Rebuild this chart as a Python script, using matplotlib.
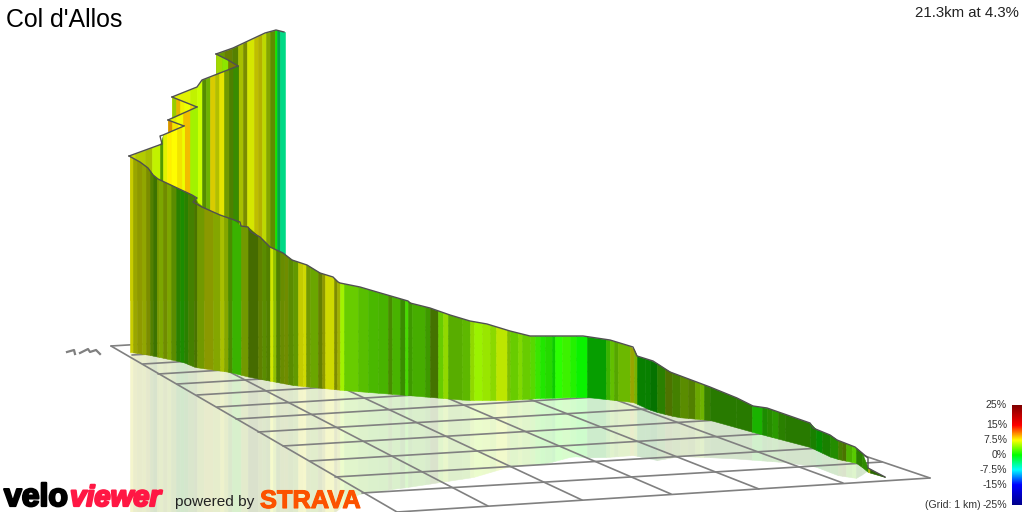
import matplotlib
matplotlib.use('Agg')
import matplotlib.pyplot as plt
import matplotlib.patheffects as pe
from matplotlib.colors import LinearSegmentedColormap
import numpy as np

# Everything in image pixels; grade in percent, shade 0-1.
front_top_x = [129, 140, 148, 153, 158, 175, 192, 197, 193, 202, 220, 240, 241, 248, 251, 260, 270, 283, 292,
               307, 320, 333, 338, 340, 360, 377, 408, 410, 430, 450, 470, 487, 510, 530, 553, 583, 610, 633,
               637, 653, 670, 710, 737, 753, 767, 810, 813, 830, 837, 855, 868, 868, 885]
front_top_y = [156, 162, 168, 175, 179, 187, 195, 198, 202, 207, 215, 222, 226, 227, 232, 237, 247, 253, 260,
               265, 273, 277, 282, 283, 287, 292, 301, 303, 308, 315, 321, 324, 331, 336, 336, 336, 340, 347,
               356, 361, 372, 387, 398, 406, 408, 423, 428, 435, 440, 447, 458, 468, 477]
front_bottom_x = [131, 150, 183, 195, 230, 250, 293, 333, 343, 407, 467, 507, 540, 577, 587, 633, 653, 677,
                  710, 753, 810, 833, 857, 868, 885]
front_bottom_y = [352, 355, 362, 367, 372, 377, 385, 389, 390, 395, 400, 400, 398, 397, 397, 402, 411, 417,
                  420, 432, 447, 458, 463, 472, 477]
shadow_x = [131, 335, 345, 360, 407, 440, 473, 507, 547, 573, 593, 633, 657, 680, 730, 797, 817, 837, 857, 868, 885]
shadow_y = [530, 512, 503, 493, 487, 482, 477, 467, 463, 456, 458, 455, 460, 456, 458, 463, 467, 475, 478, 470, 477]

front_edges = [130, 133, 137, 142, 146, 150, 153, 157, 159, 163, 167, 171, 176, 180, 184, 188, 194, 197, 204, 213,
               220, 224, 228, 232, 241, 248, 258, 262, 266, 270, 273, 276, 280, 284, 288, 293, 298, 303, 306, 310,
               318, 322, 325, 334, 337, 340, 344, 358, 368, 378, 388, 392, 400, 405, 408, 412, 425, 430, 438, 443,
               448, 462, 470, 474, 482, 490, 496, 507, 510, 518, 522, 530, 535, 540, 545, 552, 555, 562, 570, 576,
               587, 606, 610, 614, 618, 630, 634, 637, 645, 650, 657, 665, 672, 680, 688, 695, 700, 704, 710, 736,
               752, 762, 767, 772, 778, 785, 810, 816, 822, 830, 838, 842, 846, 852, 856, 862, 868, 870, 885]
front_grade = [7.4, 7, 7, 6.5, 6.5, 4.8, 4, 6, 5.5, 6, 5.5, 4.8, 2.5, 1.5, 2.5, 4, 4.8, 5.5, 6.8,
               6, 6.5, 6, 4, 2.5, 5.5, 4.8, 5.5, 4.8, 4.8, 6.8, 5.5, 4.8, 5.5, 6, 4.8, 4.8, 7.2, 7.2, 5.5,
               4.8, 6, 7, 7.2, 6.8, 6.8, 5, 3.75, 3.4, 3.1, 3.1, 3.75, 3.1, 3.1, 2.5, 3.1, 3.1, 3.1, 4.4, 3.75,
               5, 3.75, 3.75, 5, 4.75, 5, 4.75, 6.2, 5, 3.75, 4.4, 3.75, 3.1, 1.9, 1, 1.25, 0.5, 1.25, 1.9, 1,
               0.2, 0.3, 2.5, 3.75, 3.75, 4.4, 6.8, 5, 0.5, 0.4, 0.3, 2.5, 5, 4, 4.8, 4.8, 4.8, 4.5, 3.2, 2.5,
               2.5, 1, 1.5, 2, 2, 2.5, 2.5, 1.5, 0.3, 1.5, 1.8, 4, 4.8, 3.2, 3.2, 2.5, 2.5, 7, 3]
front_shade = [.8, .65, .6, .65, .55, .5, .45, .6, .65, .55, .65, .55, .5, .55, .5, .5, .45, .6, .6,
               .65, .75, .65, .55, .7, .6, .42, .5, .55, .5, .9, .75, .5, .55, .55, .55, .6, .8, .85, .6,
               .65, .5, .6, .85, .55, .7, .95, .8, .75, .72, .7, .55, .7, .55, .85, .6, .68, .6, .45, .8,
               .85, .68, .72, .85, .95, .9, .85, .9, .75, .8, .85, .8, .85, .9, .9, .85, .8, 1, .95, .95,
               .95, .62, .7, .75, .65, .72, .65, .7, .5, .5, .45, .5, .45, .5, .55, .5, .65, .7, .5, .48,
               .48, .7, .55, .55, .6, .5, .48, .5, .55, .5, .55, .5, .45, .7, .8, .5, .55, .7, .4]

# rear wall, folded by the switchbacks, from the far side to the near side
rear_x = [[216, 233, 265, 276, 284],
          [216, 228, 238],
          [172, 197, 202, 238],
          [172, 197],
          [168, 197],
          [168, 184],
          [129, 162, 160, 163, 184]]
rear_y = [[54, 48, 33, 30, 32],
          [54, 60, 66],
          [97, 87, 80, 66],
          [97, 107],
          [120, 107],
          [120, 126],
          [156, 144, 136, 135, 126]]
rear_edges = [[216, 224, 232, 238, 243, 247, 254, 258, 262, 266, 270, 275, 277, 280, 285],
              [216, 222, 228, 233, 238],
              [172, 180, 190, 197, 202, 206, 210, 215, 219, 224, 229, 233, 238],
              [172, 176, 180, 184, 190, 193, 197],
              [168, 176, 183, 190, 197],
              [168, 172, 178, 184],
              [130, 135, 145, 152, 160, 163, 167, 171, 177, 182, 184]]
rear_grade = [[5, 6, 5, 6.5, 6.5, 7, 7.5, 7.5, 6.5, 6, 5, 0.5, -3.5, -4.5],
              [5.5, 4.5, 7, 8],
              [7, 7, 6, 6, 4.5, 4.5, 8, 7, 7.5, 5.5, 4.5, 3],
              [5.5, 9, 7.5, 7, 8.5, 4.5],
              [7, 7, 9, 5],
              [10, 8, 7.5],
              [7, 6.5, 6.5, 6, 4, 7, 8, 7.5, 8, 7]]
rear_shade = [[.6, .5, .5, .75, .55, .9, .75, .7, .85, .65, .55, .9, .65, .85],
              [.85, .9, .5, .5],
              [.95, .95, .95, 1, .55, .7, .85, .75, .9, .6, .5, .55],
              [.8, .9, .95, 1, .95, 1],
              [.95, 1, .95, .95],
              [.85, .95, 1],
              [.85, .8, .75, .95, .6, .95, 1, 1, .95, 1]]

# grid lines as (start, end) in pixels
across_x0 = [111, 132, 143, 158, 177, 197, 217, 236, 258, 283, 310, 335, 362, 397]
across_y0 = [346, 355, 364, 374, 384, 395, 407, 419, 432, 446, 461, 477, 493, 512]
across_x1 = [477, 502, 526, 554, 582, 612, 645, 678, 714, 752, 794, 838, 882, 930]
across_y1 = [324, 333, 341, 350, 360, 370, 381, 392, 405, 418, 432, 447, 462, 478]
along_x0 = [111, 170, 234, 296, 356, 425, 471]
along_y0 = [346, 341, 337, 333, 331, 330, 323]
along_x1 = [397, 488, 582, 671, 759, 843, 930]
along_y1 = [512, 506, 500, 494, 489, 483, 478]

scale_values = [25, 15, 7.5, 0, -7.5, -15, -25]
scale_labels = ['25%', '15%', '7.5%', '0%', '-7.5%', '-15%', '-25%']
scale_colors = ['#800000', '#ff0000', '#ffff00', '#00ff00', '#00ffff', '#0000ff', '#00008c']

plt.rcParams['font.family'] = ['Liberation Sans', 'DejaVu Sans']
cmap = LinearSegmentedColormap.from_list(
    'grade', [((v + 25) / 50.0, c) for v, c in zip(scale_values[::-1], scale_colors[::-1])])


def strip_color(grade, shade):
    return np.array(cmap((grade + 25) / 50.0)[:3]) * shade


def draw_wall(x, y, bottom_x, bottom_y, edges, grade, shade, zorder):
    # x may step back a little at hooks, np.interp needs it rising
    xm = np.maximum.accumulate(x)
    for x0, x1, g, s in zip(edges[:-1], edges[1:], grade, shade, strict=True):
        xs = np.array([x0, x1])
        ax.fill_between(xs, np.interp(xs, xm, y), np.interp(xs, bottom_x, bottom_y),
                        color=strip_color(g, s), lw=0.4, zorder=zorder)
    ax.plot(x, y, color='#505050', lw=1.0, zorder=zorder + 0.5, solid_joinstyle='round')


fig = plt.figure(figsize=(10.24, 5.12), dpi=100)
ax = fig.add_axes([0, 0, 1, 1])

# pale mirror image under the front wall
for x0, x1, g, s in zip(front_edges[:-1], front_edges[1:], front_grade, front_shade, strict=True):
    xs = np.array([x0, x1])
    pale = 0.2 * strip_color(g, s) + 0.8
    ax.fill_between(xs, np.interp(xs, front_bottom_x, front_bottom_y), np.interp(xs, shadow_x, shadow_y),
                    color=pale, lw=0.4, zorder=1)

# grid
for x0, y0, x1, y1 in zip(across_x0 + along_x0, across_y0 + along_y0, across_x1 + along_x1, across_y1 + along_y1):
    ax.plot([x0, x1], [y0, y1], color='#808080', lw=1.2, zorder=2, solid_capstyle='round')

for i in range(len(rear_x)):
    draw_wall(rear_x[i], rear_y[i], [100, 300], [300, 300], rear_edges[i], rear_grade[i], rear_shade[i], 3 + i)
draw_wall(front_top_x, front_top_y, front_bottom_x, front_bottom_y, front_edges, front_grade, front_shade, 12)

# little marks left of the back corner
ax.plot([67, 74, 75], [352, 350, 354], color='#808080', lw=1.6, zorder=2)
ax.plot([80, 88, 90, 96, 100], [353, 349, 352, 350, 354], color='#808080', lw=1.6, zorder=2)

# scale bar
ax.imshow(np.linspace(1, 0, 200).reshape(-1, 1), cmap=cmap, vmin=0, vmax=1, aspect='auto',
          extent=[1012, 1022, 505, 405], zorder=3)
for v, lab in zip(scale_values, scale_labels):
    ax.text(1007, 455 - v * 2, lab, ha='right', va='center', fontsize=7.6, color='#333333')
ax.text(981, 505, '(Grid: 1 km)', ha='right', va='center', fontsize=7.6, color='#333333')

ax.text(6, 20, "Col d'Allos", ha='left', va='center', fontsize=17.9, color='black')
ax.text(1019, 13, '21.3km at 4.3%', ha='right', va='center', fontsize=10.8, color='#222222')

# logos
ax.text(4, 498, 'velo', ha='left', va='center', fontsize=23, fontweight='bold', color='black',
        path_effects=[pe.withStroke(linewidth=1.6, foreground='black')], zorder=20)
ax.text(70, 498, 'viewer', ha='left', va='center', fontsize=21, fontweight='bold', style='italic',
        color='#ff1744', path_effects=[pe.withStroke(linewidth=1.6, foreground='#ff1744')], zorder=20)
ax.text(175, 502, 'powered by', ha='left', va='center', fontsize=11.1, color='#222222', zorder=20)
ax.text(260, 501, 'STRAVA', ha='left', va='center', fontsize=18.3, fontweight='bold', color='#fc5200',
        path_effects=[pe.withStroke(linewidth=0.8, foreground='#fc5200')], zorder=20)

ax.set_xlim(0, 1024)
ax.set_ylim(512, 0)
ax.axis('off')
fig.savefig('out.png', dpi=100)
